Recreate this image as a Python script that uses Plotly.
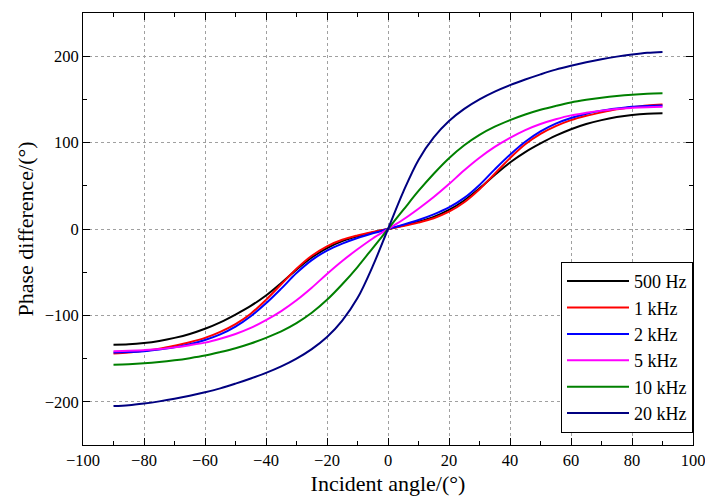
import plotly.graph_objects as go

# Incident angle (degrees), positive half; curves are odd-symmetric about the origin
angle_pos = [0, 5, 10, 15, 20, 25, 30, 35, 40, 45, 50, 55, 60, 65, 70, 75, 80, 85, 90]

phase_500hz = [0, 4, 8.5, 14, 22, 33, 47, 62.5, 77, 89, 99, 108, 115.5, 121.5, 126, 129.5, 132, 133.5, 134]
phase_1khz = [0, 3.5, 7.5, 12.5, 20, 31, 46, 64, 82, 98, 110, 119, 126, 131, 135, 138.5, 141, 143, 144]
phase_2khz = [0, 5, 10.5, 17, 25, 36, 51, 69, 86, 101, 113, 122, 128.5, 133.5, 137, 139.5, 141.5, 142.5, 143]
phase_5khz = [0, 11, 23.5, 37, 52, 68, 82.5, 95, 105.5, 114.5, 121.5, 127, 131.5, 134.5, 137, 139, 140.2, 141, 141.5]
phase_10khz = [0, 22, 44, 64, 82, 97, 109, 118.5, 126, 132.5, 138, 142.5, 146.5, 149.5, 152, 154, 155.5, 156.5, 157]
phase_20khz = [0, 43, 80, 106, 125, 139, 150, 159, 166.5, 173, 179, 184.5, 189, 193, 196.5, 199.5, 202, 204, 205]

series_names = ["500 Hz", "1 kHz", "2 kHz", "5 kHz", "10 kHz", "20 kHz"]
series_values = [phase_500hz, phase_1khz, phase_2khz, phase_5khz, phase_10khz, phase_20khz]
series_colors = ["#000000", "#ff0000", "#0000ff", "#ff00ff", "#008000", "#000080"]

x_ticks = list(range(-100, 101, 20))
y_ticks = [-200, -100, 0, 100, 200]

FONT = "Liberation Serif"


def full_curve(xs, ys):
    # mirror the positive half to get the full -90..90 curve
    x_full = [-v for v in reversed(xs[1:])] + list(xs)
    y_full = [-v for v in reversed(ys[1:])] + list(ys)
    return x_full, y_full


fig = go.Figure()
for name, vals, color in zip(series_names, series_values, series_colors):
    xf, yf = full_curve(angle_pos, vals)
    fig.add_trace(go.Scatter(
        x=xf, y=yf, mode="lines", name=name,
        line=dict(color=color, width=2, shape="spline", smoothing=1.0),
    ))

axis_common = dict(
    showline=True, linecolor="black", linewidth=1, mirror="ticks",
    ticks="inside", ticklen=7, tickwidth=1, tickcolor="black",
    showgrid=True, gridcolor="#a0a0a0", gridwidth=1, griddash="3px,3px",
    zeroline=False, ticklabeloverflow="allow",
    tickfont=dict(family=FONT, size=16.5, color="black"),
)

fig.update_xaxes(
    range=[-100, 100], tickvals=x_ticks,
    minor=dict(dtick=10, tick0=0, ticks="inside", ticklen=4, tickcolor="black", showgrid=False),
    title=dict(text="Incident angle/(°)", font=dict(family=FONT, size=22, color="black"), standoff=6),
    **axis_common,
)
fig.update_yaxes(
    range=[-250, 250], tickvals=y_ticks,
    minor=dict(dtick=50, tick0=0, ticks="inside", ticklen=4, tickcolor="black", showgrid=False),
    title=dict(text="Phase difference/(°)", font=dict(family=FONT, size=22, color="black"), standoff=4),
    **axis_common,
)

fig.update_layout(
    width=705, height=503,
    margin=dict(l=83, r=12, t=13, b=58, autoexpand=False),
    paper_bgcolor="white", plot_bgcolor="white",
    font=dict(family=FONT, color="black"),
    showlegend=True,
    legend=dict(
        x=1.0, y=0.028, xanchor="right", yanchor="bottom",
        bgcolor="white", bordercolor="black", borderwidth=1,
        itemwidth=62,
        font=dict(family=FONT, size=18, color="black"),
    ),
)

fig.write_html("out.html")
